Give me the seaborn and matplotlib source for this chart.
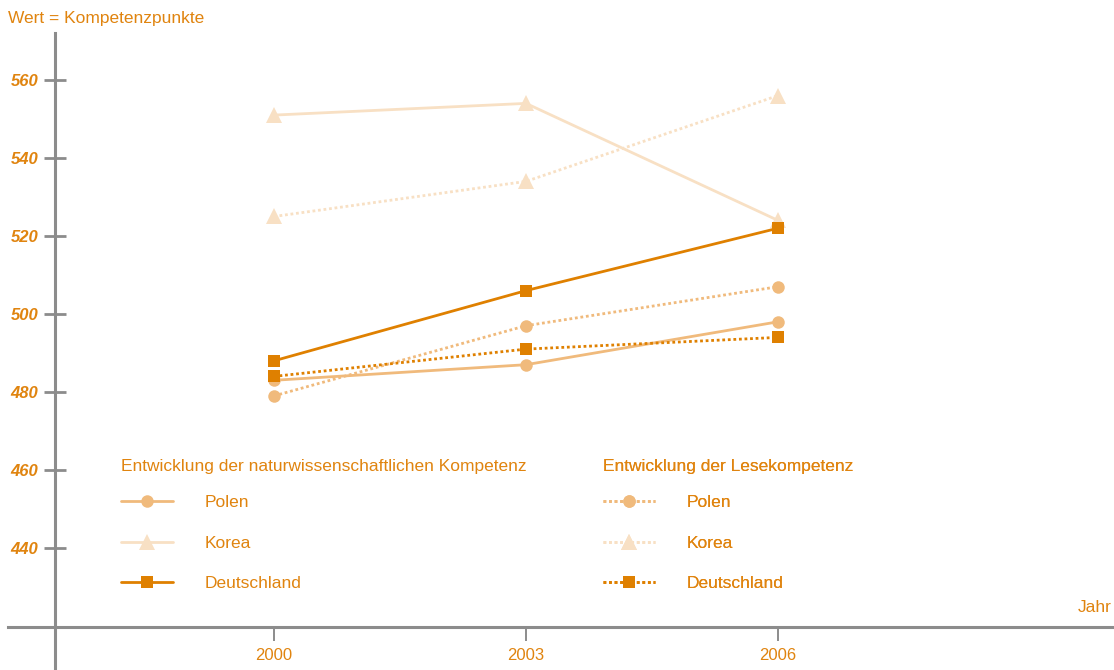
import pandas as pd
import seaborn as sns
import matplotlib.pyplot as plt
from matplotlib.lines import Line2D

# Data
jahre = [2000, 2003, 2006]
polen_natur = [483, 487, 498]
korea_natur = [551, 554, 524]
deutschland_natur = [488, 506, 522]
polen_lese = [479, 497, 507]
korea_lese = [525, 534, 556]
deutschland_lese = [484, 491, 494]

laender = ["Polen", "Korea", "Deutschland"]
kompetenzen = ["Entwicklung der naturwissenschaftlichen Kompetenz",
               "Entwicklung der Lesekompetenz"]
y_ticks = [440, 460, 480, 500, 520, 540, 560]

rows = []
for komp, werte in zip(kompetenzen, [[polen_natur, korea_natur, deutschland_natur],
                                     [polen_lese, korea_lese, deutschland_lese]]):
    for land, w in zip(laender, werte):
        for j, v in zip(jahre, w):
            rows.append({"Jahr": j, "Wert": v, "Land": land, "Kompetenz": komp})
df = pd.DataFrame(rows)

orange = "#e0840f"
farben = {"Polen": "#f0ba7c", "Korea": "#f8e0c4", "Deutschland": "#df8000"}
marker = {"Polen": "o", "Korea": "^", "Deutschland": "s"}
msize = {"Polen": 9, "Korea": 11, "Deutschland": 8.5}
linien = {kompetenzen[0]: "-", kompetenzen[1]: (0, (1, 1))}
grau = "#8c8c8c"

sns.set_style("white")
plt.rcParams["font.family"] = ["Liberation Sans", "DejaVu Sans"]

fig = plt.figure(figsize=(11.14, 6.7), dpi=100)
ax = fig.add_axes([0, 0, 1, 1])

# draw lighter (Korea) first so darker lines lie on top
for land in ["Korea", "Polen", "Deutschland"]:
    for komp in kompetenzen:
        sub = df[(df.Land == land) & (df.Kompetenz == komp)]
        sns.lineplot(data=sub, x="Jahr", y="Wert", ax=ax, color=farben[land],
                     marker=marker[land], markersize=msize[land], markeredgewidth=0,
                     linestyle=linien[komp], linewidth=2, legend=False)

ax.set_xlim(1996.738, 2010)
ax.set_ylim(408.72, 580.51)
ax.set_facecolor("white")

for s in ["top", "right"]:
    ax.spines[s].set_visible(False)
ax.spines["left"].set_position(("data", 1997.393))
ax.spines["bottom"].set_position(("data", 419.74))
ax.spines["left"].set_bounds(408.72, 572.05)
ax.spines["bottom"].set_bounds(1996.833, 2009.976)
for s in ["left", "bottom"]:
    ax.spines[s].set_color(grau)
    ax.spines[s].set_linewidth(2.2)
    ax.spines[s].set_visible(True)

ax.set_xticks(jahre)
ax.set_xticklabels([str(j) for j in jahre])
ax.set_yticks(y_ticks)
ax.set_yticklabels([str(t) for t in y_ticks])
ax.tick_params(axis="y", direction="inout", length=16, width=2, color=grau,
               labelcolor=orange, labelsize=12, pad=4, left=True)
ax.tick_params(axis="x", direction="out", length=10, width=1.4, color=grau,
               labelcolor=orange, labelsize=12, pad=5, bottom=True)
for lab in ax.get_yticklabels():
    lab.set_fontweight("bold")
    lab.set_fontstyle("italic")
ax.set_xlabel("")
ax.set_ylabel("")

fig.text(8 / 1114, 1 - 18 / 670, "Wert = Kompetenzpunkte", color=orange,
         fontsize=12.5, ha="left", va="center")
fig.text(1112 / 1114, 1 - 608 / 670, "Jahr", color=orange,
         fontsize=12.5, ha="right", va="center")

# two legends
for i, (komp, x0) in enumerate(zip(kompetenzen, [121, 603])):
    handles = [Line2D([], [], color=farben[l], marker=marker[l], markersize=msize[l],
                      markeredgewidth=0, linestyle=linien[komp], linewidth=2)
               for l in laender]
    leg = ax.legend(handles, laender, title=komp, loc="upper left",
                    bbox_to_anchor=(x0 / 1114, 1 - 459 / 670), bbox_transform=fig.transFigure,
                    frameon=False, fontsize=12.5, title_fontsize=12.5, alignment="left",
                    handlelength=3.0, handletextpad=1.8, labelspacing=1.47,
                    borderpad=0, borderaxespad=0)
    leg.get_title().set_color(orange)
    for t in leg.get_texts():
        t.set_color(orange)
    leg._legend_box.sep = 15
    ax.add_artist(leg)

fig.savefig("out.png", dpi=100)
